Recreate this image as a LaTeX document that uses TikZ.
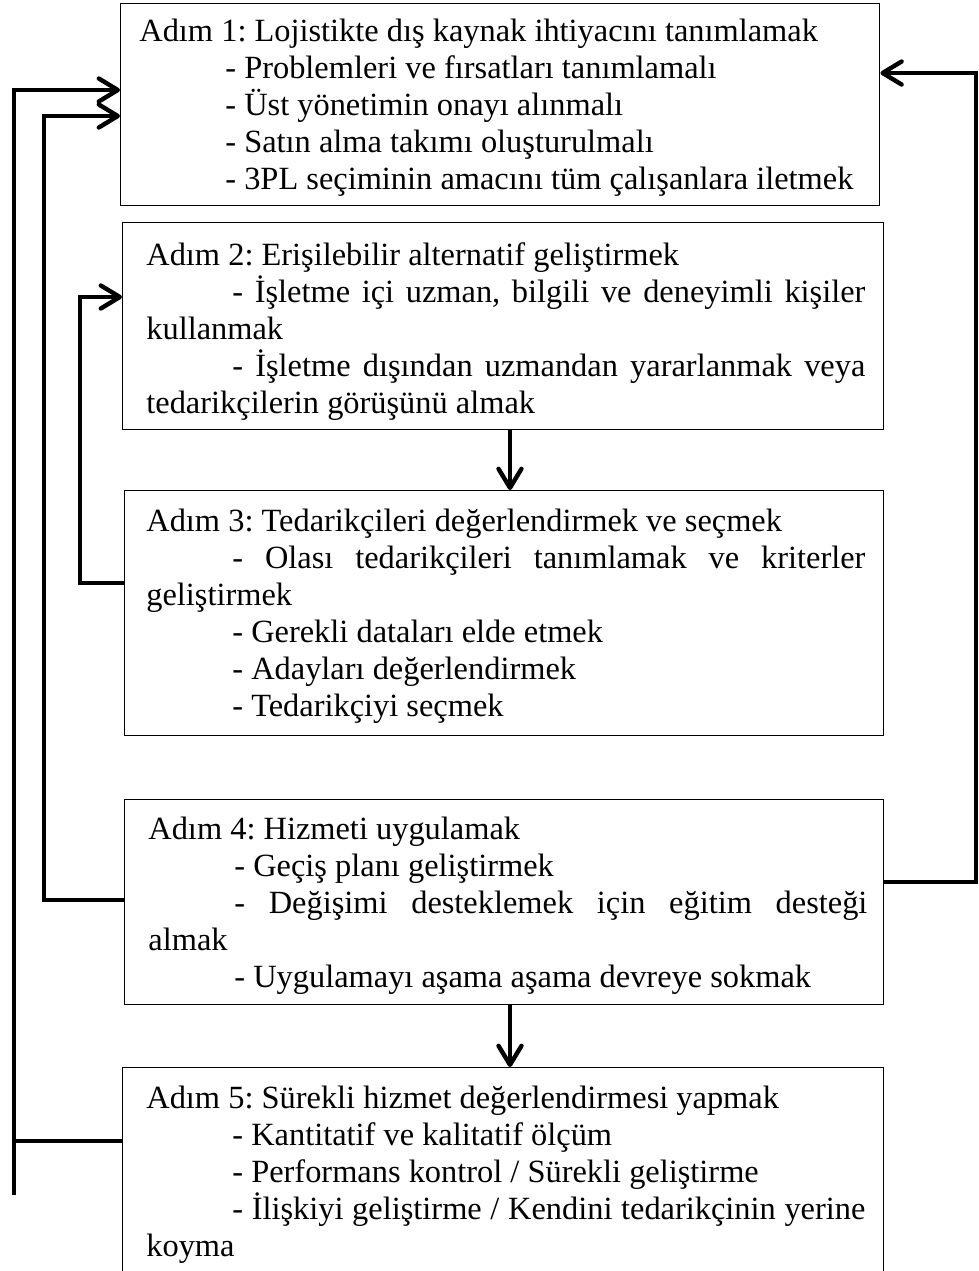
\documentclass[tikz,border=0pt]{standalone}
\usepackage{fontspec}
\setmainfont{Liberation Serif}
\usetikzlibrary{arrows.meta}
\newlength{\ind}
\setlength{\ind}{43pt}
\newcommand{\txtsetup}{\setlength{\parindent}{0pt}\hyphenpenalty=10000\relax\exhyphenpenalty=10000\relax\frenchspacing}
\begin{document}
\begin{tikzpicture}[x=0.5pt,y=-0.5pt,
  box/.style={draw,line width=0.7pt,inner sep=0pt,anchor=north west},
  txt/.style={anchor=north west,inner sep=0pt,text width=359.5pt,align=justify,
    font=\fontsize{16.2}{18.5}\selectfont,execute at begin node=\txtsetup},
  fb/.style={line width=2.2pt,line join=miter},
  tip/.style={-{Straight Barb[round,length=9.5pt,width=11.5pt]}}]
\useasboundingbox (0,0) rectangle (979,1271);
\clip (0,0) rectangle (979,1271);
% boxes
\node[box,minimum width=379.5pt,minimum height=101pt] (b1) at (120,3) {};
\node[box,minimum width=380.5pt,minimum height=103.5pt] (b2) at (122,222) {};
\node[box,minimum width=379.5pt,minimum height=122.5pt] (b3) at (124,490) {};
\node[box,minimum width=379.5pt,minimum height=102.5pt] (b4) at (124,799) {};
\node[box,minimum width=380.5pt,minimum height=110pt] (b5) at (122,1067) {};
% texts
\node[txt] (t1) at (139,19) {Adım 1: Lojistikte dış kaynak ihtiyacını tanımlamak\par
\hspace*{\ind}- Problemleri ve fırsatları tanımlamalı\par
\hspace*{\ind}- Üst yönetimin onayı alınmalı\par
\hspace*{\ind}- Satın alma takımı oluşturulmalı\par
\hspace*{\ind}- 3PL seçiminin amacını tüm çalışanlara iletmek};
\node[txt] (t2) at (146,242) {Adım 2: Erişilebilir alternatif geliştirmek\par
\hspace*{\ind}- İşletme içi uzman, bilgili ve deneyimli kişiler\linebreak kullanmak\par
\hspace*{\ind}- İşletme dışından uzmandan yararlanmak veya\linebreak tedarikçilerin görüşünü almak};
\node[txt] (t3) at (146,509) {Adım 3: Tedarikçileri değerlendirmek ve seçmek\par
\hspace*{\ind}- Olası tedarikçileri tanımlamak ve kriterler\linebreak geliştirmek\par
\hspace*{\ind}- Gerekli dataları elde etmek\par
\hspace*{\ind}- Adayları değerlendirmek\par
\hspace*{\ind}- Tedarikçiyi seçmek};
\node[txt] (t4) at (148,817) {Adım 4: Hizmeti uygulamak\par
\hspace*{\ind}- Geçiş planı geliştirmek\par
\hspace*{\ind}- Değişimi desteklemek için eğitim desteği\linebreak almak\par
\hspace*{\ind}- Uygulamayı aşama aşama devreye sokmak};
\node[txt] (t5) at (146,1086) {Adım 5: Sürekli hizmet değerlendirmesi yapmak\par
\hspace*{\ind}- Kantitatif ve kalitatif ölçüm\par
\hspace*{\ind}- Performans kontrol / Sürekli geliştirme\par
\hspace*{\ind}- İlişkiyi geliştirme / Kendini tedarikçinin yerine\linebreak koyma};
% connectors
\coordinate (tail) at (14,1195);
\coordinate (c1) at (14,90);
\draw[fb,tip] (tail) -- (c1) -- (c1 -| b1.west);
\draw[fb] (b5.west |- 0,1141) -- (14,1141);
\draw[fb,tip] (b4.west |- 0,900) -| (44,116) -- (b1.west |- 0,116);
\draw[fb,tip] (b3.west |- 0,583) -| (80,297) -- (b2.west |- 0,297);
\draw[fb,tip] (b4.east |- 0,882) -| (976,73) -- (b1.east |- 0,73);
\draw[fb,tip] (510,0 |- b2.south) -- (510,0 |- b3.north);
\draw[fb,tip] (510,0 |- b4.south) -- (510,0 |- b5.north);
\end{tikzpicture}
\end{document}
